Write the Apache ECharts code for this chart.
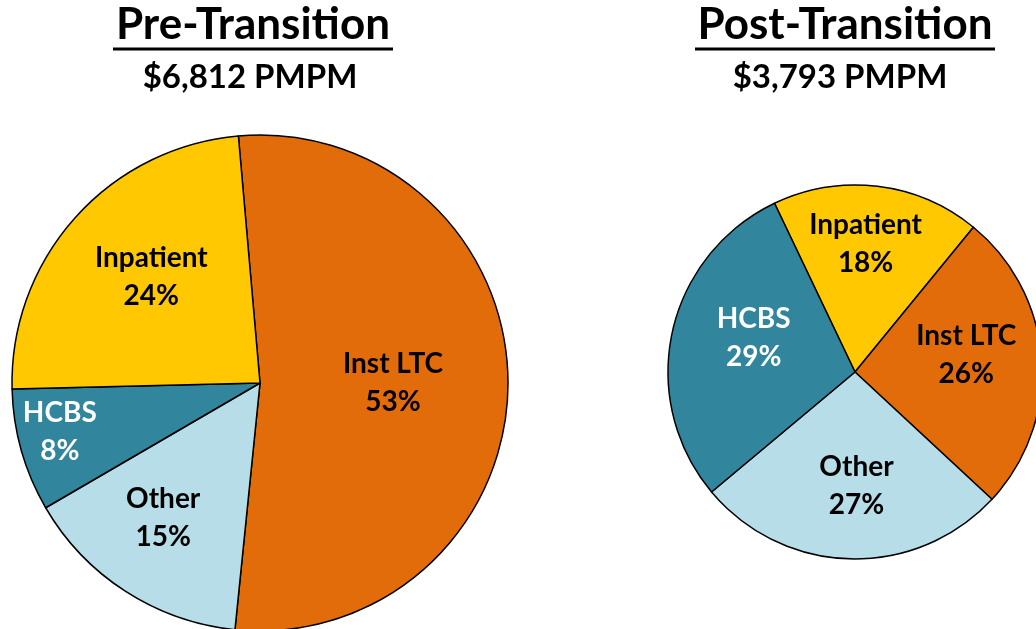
<!DOCTYPE html>
<html>
<head>
<meta charset="utf-8">
<script src="https://cdn.jsdelivr.net/npm/echarts@6/dist/echarts.min.js"></script>
<style>
  html, body { margin: 0; padding: 0; background: #fff; }
  #chart { width: 1036px; height: 629px; }
</style>
</head>
<body>
<div id="chart"></div>
<script>
// Shares of PMPM spend, before and after the transition
const preNames = ['Inst LTC', 'Other', 'HCBS', 'Inpatient'];
const preValues = [53, 15, 8, 24];
const postNames = ['Inpatient', 'Inst LTC', 'Other', 'HCBS'];
const postValues = [18, 26, 27, 29];
const titles = ['Pre-Transition', 'Post-Transition'];
const subtitles = ['$6,812 PMPM', '$3,793 PMPM'];

const colors = {
    'Inst LTC': '#E36C0A',
    'Other': '#B7DEE8',
    'HCBS': '#31859C',
    'Inpatient': '#FFC800'
};

const FONT = 'Lato, "Open Sans", sans-serif';

// Build the data items for one pie
const makeData = (names, values) => names.map((name, i) => ({
    name: name,
    value: values[i],
    itemStyle: { color: colors[name] },
    label: { color: name === 'HCBS' ? '#fff' : '#000' }
}));

// Excel places labels a bit off the mid radius, nudge them to match
const preShift = [[6, -1], [-28, 28], [-78, 14], [-14, -21]];
const postShift = [[-1, -32], [15, -10], [4, 18], [-7, -13]];

const pieSeries = (data, center, radius, startAngle, shift) => ({
    type: 'pie',
    center: center,
    radius: radius,
    startAngle: startAngle,
    clockwise: true,
    avoidLabelOverlap: false,
    animation: false,
    data: data,
    itemStyle: {
        borderColor: '#000',
        borderWidth: 1.5
    },
    label: {
        show: true,
        position: 'inside',
        formatter: '{b}\n{c}%',
        fontFamily: FONT,
        fontWeight: 'bold',
        fontSize: 28,
        lineHeight: 38
    },
    labelLine: { show: false },
    emphasis: { disabled: true },
    labelLayout: (params) => ({
        dx: shift[params.dataIndex][0],
        dy: shift[params.dataIndex][1]
    })
});

const headerText = (text, x, y, size) => ({
    type: 'text',
    x: x,
    y: y,
    style: {
        text: text,
        fill: '#000',
        font: 'bold ' + size + 'px ' + FONT,
        align: 'center',
        verticalAlign: 'middle'
    }
});

const chart = echarts.init(document.getElementById('chart'));

const option = {
    backgroundColor: '#fff',
    graphic: [
        headerText(titles[0], 253, 25, 44),
        headerText(subtitles[0], 250, 77, 33),
        { type: 'line', shape: { x1: 113, y1: 49, x2: 393, y2: 49 }, style: { stroke: '#000', lineWidth: 3 } },
        headerText(titles[1], 845, 25, 44),
        headerText(subtitles[1], 840, 77, 33),
        { type: 'line', shape: { x1: 695, y1: 49, x2: 995, y2: 49 }, style: { stroke: '#000', lineWidth: 3 } }
    ],
    series: [
        pieSeries(makeData(preNames, preValues), [260, 383], 248, 95, preShift),
        pieSeries(makeData(postNames, postValues), [855, 372], 187, 115.5, postShift)
    ]
};

chart.setOption(option);
</script>
</body>
</html>
